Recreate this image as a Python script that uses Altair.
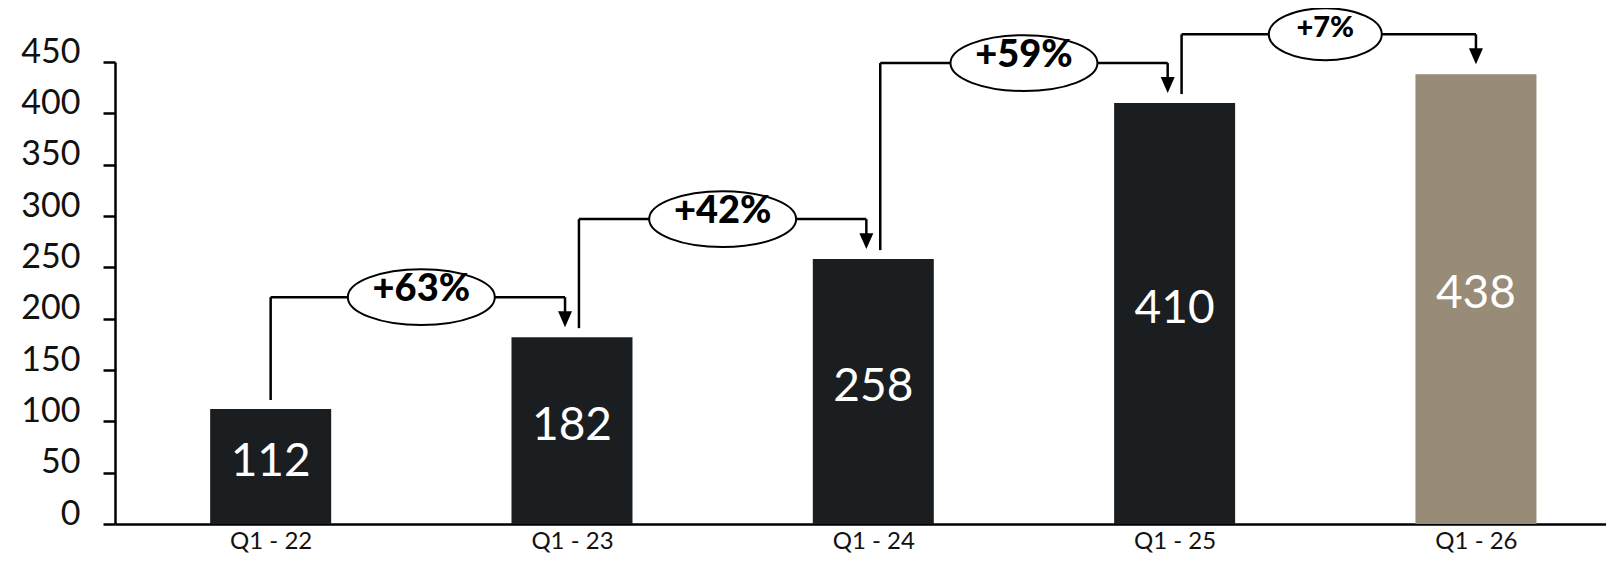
import json
import altair as alt
import pandas as pd

# ---------------- data ----------------
quarters = ["Q1 - 22", "Q1 - 23", "Q1 - 24", "Q1 - 25", "Q1 - 26"]
revenue = [112, 182, 258, 410, 438]
growth_labels = ["+63%", "+42%", "+59%", "+7%"]
y_ticks = [0, 50, 100, 150, 200, 250, 300, 350, 400, 450]

# ---------------- layout / style ----------------
W, H = 1491, 462
XMIN, XMAX = -0.5, 4.415
PX = W / (XMAX - XMIN)          # pixels per category step
DX = 7 / PX                     # small side offset of connector lines
DARK = "#1b1e20"
TAN = "#988b77"
FONT = "Lato"
LW = 2.5
LIFT = -40                      # connector height above taller bar (px)

n = len(quarters)
bars_df = pd.DataFrame({"i": list(range(n)), "q": quarters, "v": revenue})

rows = []
for k, lab in enumerate(growth_labels):
    a, b = revenue[k], revenue[k + 1]
    rows.append({
        "k": k,
        "x_out": k + (DX if k > 0 else 0.0),
        "x_in": (k + 1) - (DX if k + 1 < n - 1 else 0.0),
        "x_mid": k + 0.5,
        "v_from": a,
        "v_to": b,
        "v_top": max(a, b),
        "label": lab,
        "wide": len(lab) > 3,
    })
con_df = pd.DataFrame(rows)

x_scale = alt.Scale(domain=[XMIN, XMAX], nice=False, zero=False)
y_scale = alt.Scale(domain=[0, 450], nice=False, zero=True)

label_expr = json.dumps(quarters) + "[datum.value]"

x_axis = alt.Axis(values=list(range(n)), labelExpr=label_expr, title=None,
                  ticks=False, grid=False, domainColor="black", domainWidth=LW,
                  labelFont=FONT, labelFontSize=24, labelColor="#111111",
                  labelPadding=5, labelFlush=False)
y_axis = alt.Axis(values=y_ticks, title=None, grid=False, tickSize=12,
                  tickWidth=LW, tickColor="black", domainColor="black",
                  domainWidth=LW, labelFont=FONT, labelFontSize=34,
                  labelColor="#111111", labelPadding=23,
                  labelBaseline="alphabetic", labelFlush=False)


def X(f):
    return alt.X(f, type="quantitative", scale=x_scale, axis=x_axis)


def Y(f):
    return alt.Y(f, type="quantitative", scale=y_scale, axis=y_axis)


bars = alt.Chart(bars_df).mark_bar(width=121).encode(
    x=X("i"),
    y=Y("v"),
    color=alt.condition(alt.datum.i == n - 1, alt.value(TAN), alt.value(DARK)),
)

bar_text = alt.Chart(bars_df).transform_calculate(mid="datum.v / 2").mark_text(
    color="white", font=FONT, fontSize=46, baseline="alphabetic", align="center", dy=9
).encode(
    x=X("i"),
    y=Y("mid"),
    text="v:Q",
)

base = alt.Chart(con_df)

up = base.mark_rule(color="black", strokeWidth=LW, yOffset=-9, y2Offset=LIFT).encode(
    x=X("x_out"),
    y=Y("v_from"),
    y2="v_top:Q",
)

across = base.mark_rule(color="black", strokeWidth=LW, yOffset=LIFT).encode(
    x=X("x_out"),
    x2="x_in:Q",
    y=Y("v_top"),
)

down = base.mark_rule(color="black", strokeWidth=LW, yOffset=LIFT, y2Offset=-24).encode(
    x=X("x_in"),
    y=Y("v_top"),
    y2="v_to:Q",
)

head = base.mark_point(
    shape="M-1,-1.14L1,-1.14L0,1.14Z", size=196, filled=True, color="black",
    opacity=1, strokeWidth=0, yOffset=-18
).encode(
    x=X("x_in"),
    y=Y("v_to"),
)

ell_wide = base.transform_filter("datum.wide").mark_point(
    shape="M-1,0A1,0.38,0,1,1,1,0A1,0.38,0,1,1,-1,0Z", size=147 * 147,
    filled=True, color="white", stroke="black", strokeWidth=2, opacity=1,
    yOffset=LIFT
).encode(
    x=X("x_mid"),
    y=Y("v_top"),
)

ell_narrow = base.transform_filter("!datum.wide").mark_point(
    shape="M-1,0A1,0.46,0,1,1,1,0A1,0.46,0,1,1,-1,0Z", size=113 * 113,
    filled=True, color="white", stroke="black", strokeWidth=2, opacity=1,
    yOffset=LIFT
).encode(
    x=X("x_mid"),
    y=Y("v_top"),
)

pct_wide = base.transform_filter("datum.wide").mark_text(
    font=FONT, fontSize=38, fontWeight=900, color="black",
    baseline="alphabetic", align="center", dy=LIFT + 4
).encode(
    x=X("x_mid"),
    y=Y("v_top"),
    text="label:N",
)

pct_narrow = base.transform_filter("!datum.wide").mark_text(
    font=FONT, fontSize=29, fontWeight=900, color="black",
    baseline="alphabetic", align="center", dy=LIFT + 3
).encode(
    x=X("x_mid"),
    y=Y("v_top"),
    text="label:N",
)

chart = alt.layer(
    bars, bar_text, up, across, down, head, ell_wide, ell_narrow, pct_wide, pct_narrow
).properties(
    width=W, height=H,
    autosize=alt.AutoSizeParams(type="none"),
    padding={"left": 107, "top": 54, "right": 0, "bottom": 31},
    background="white",
).configure_view(stroke=None)

chart.save("out.html", embed_options={"renderer": "svg", "actions": False})
